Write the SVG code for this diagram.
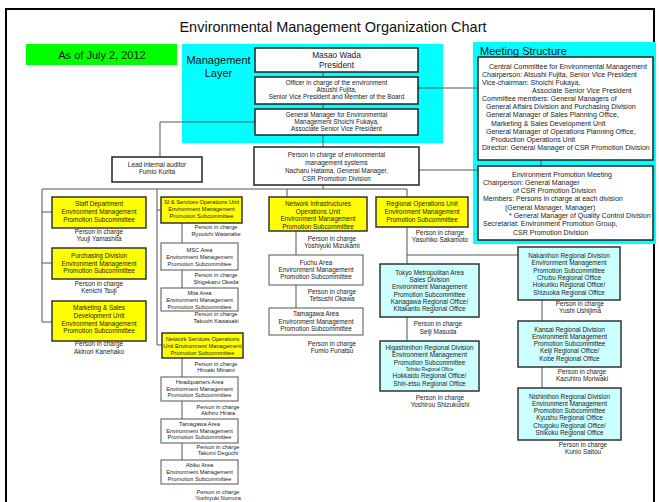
<svg xmlns="http://www.w3.org/2000/svg" width="659" height="502" viewBox="0 0 659 502">
<style>
text{font-family:"Liberation Sans",Arial,sans-serif;fill:#222}
.ttl{font-size:14.5px;text-anchor:middle;fill:#111}
.big{font-size:11px;fill:#111}
.pr{font-size:8.3px;text-anchor:middle}
.t6{font-size:6.4px;text-anchor:middle}
.t5{font-size:5.7px;text-anchor:middle}
.t7{font-size:7px}
.mid{text-anchor:middle}
.yb{fill:#ffff00;stroke:#333;stroke-width:1.5}
.cb{fill:#ccffff;stroke:#333;stroke-width:1.5}
.wb{fill:#fff;stroke:#555;stroke-width:1}
.mb{fill:#fff;stroke:#222;stroke-width:1.5}
.ln{stroke:#555;stroke-width:1;fill:none}
</style>
<rect x="0" y="0" width="659" height="502" fill="#fff"/>
<rect x="6" y="9" width="648" height="500" fill="none" stroke="#000" stroke-width="2"/>
<text class="ttl" x="333" y="32">Environmental Management Organization Chart</text>

<g id="date">
<rect x="26" y="44" width="151" height="21" fill="#00ff00"/>
<text class="big mid" x="102" y="59">As of July 2, 2012</text>
</g>

<g id="management-layer">
<rect x="182" y="44" width="261" height="99" fill="#00ffff"/>
<text class="big mid" x="218.5" y="64">Management</text>
<text class="big mid" x="218.5" y="77">Layer</text>
</g>

<g id="meeting-structure">
<rect x="473" y="42" width="183" height="202" fill="#00ffff"/>
<text class="big" x="480" y="55">Meeting Structure</text>
</g>

<g id="connectors">
<path class="ln" d="M323 72V77M323 104V109M323 135V147M323 185V189"/>
<path class="ln" d="M418 88H478M419 170H478M541 160V166"/>
<path class="ln" d="M255 122H160V157"/>
<path class="ln" d="M42 189H407"/>
<path class="ln" d="M42 189V322M42 212H52M42 263H52M42 322H52"/>
<path class="ln" d="M157 189V345M157 210H161M157 345H162"/>
<path class="ln" d="M182 223V243M182 270V288M182 358V377M182 401V419M182 443V460"/>
<path class="ln" d="M287 189V197M296 231V255M296 285V308"/>
<path class="ln" d="M407 189V197M407 227V264M407 317V341M407 255H518"/>
<path class="ln" d="M542 300V321M542 367V388"/>
</g>

<g id="president">
<rect class="mb" x="255" y="48" width="163" height="24"/>
<text class="pr" x="336.5" y="58">Masao Wada</text>
<text class="pr" x="336.5" y="67.5">President</text>
</g>
<g id="officer">
<rect class="mb" x="255" y="77" width="163" height="27"/>
<text class="t6" x="336.5" y="85">Officer in charge of the environment</text>
<text class="t6" x="336.5" y="92">Atsushi Fujita,</text>
<text class="t6" x="336.5" y="99">Senior Vice President and Member of the Board</text>
</g>
<g id="gm-env">
<rect class="mb" x="255" y="109" width="163" height="26"/>
<text class="t6" x="336.5" y="117">General Manager for Environmental</text>
<text class="t6" x="336.5" y="124">Management Shoichi Fukaya,</text>
<text class="t6" x="336.5" y="131">Associate Senior Vice President</text>
</g>
<g id="lead-auditor">
<rect class="mb" x="112" y="157" width="90" height="25"/>
<text class="t6" x="157" y="167">Lead internal auditor</text>
<text class="t6" x="157" y="174">Fumio Kurita</text>
</g>
<g id="ems">
<rect class="mb" x="254" y="147" width="165" height="38"/>
<text class="t6" x="336.5" y="157">Person in charge of environmental</text>
<text class="t6" x="336.5" y="165">management systems</text>
<text class="t6" x="336.5" y="173">Nacharu Hatama, General Manager,</text>
<text class="t6" x="336.5" y="180.5">CSR Promotion Division</text>
</g>

<g id="central-committee">
<rect class="mb" x="478" y="57" width="175" height="103"/>
<text class="t7" x="489" y="68.5">Central Committee for  Environmental Management</text>
<text class="t7" x="482" y="76.7">Chairperson: Atsushi Fujita, Senior Vice President</text>
<text class="t7" x="482" y="84.8">Vice-chairman: Shoichi Fukaya,</text>
<text class="t7" x="532" y="93">Associate Senior Vice President</text>
<text class="t7" x="482" y="101.1">Committee members: General Managers of</text>
<text class="t7" x="486" y="109.3">General Affairs Division and Purchasing Division</text>
<text class="t7" x="486" y="117.4">General Manager of Sales Planning Office,</text>
<text class="t7" x="491" y="125.6">Marketing &amp; Sales Development Unit</text>
<text class="t7" x="486" y="133.7">General Manager of Operations Planning Office,</text>
<text class="t7" x="491" y="141.9">Production Operations Unit</text>
<text class="t7" x="482" y="150">Director: General Manager of CSR Promotion Division</text>
</g>
<g id="env-promotion-meeting">
<rect class="mb" x="478" y="166" width="175" height="74"/>
<text class="t7 mid" x="562" y="176.5">Environment Promotion Meeting</text>
<text class="t7" x="483" y="184.8">Chairperson: General Manager</text>
<text class="t7" x="513" y="193.1">of CSR Promotion Division</text>
<text class="t7" x="483" y="201.4">Members: Persons in charge at each division</text>
<text class="t7" x="505" y="209.7">(General Manager, Manager)</text>
<text class="t7" x="509" y="218">* General Manager of Quality Control Division</text>
<text class="t7" x="483" y="226.3">Secretariat: Environment Promotion Group,</text>
<text class="t7" x="513" y="234.6">CSR Promotion Division</text>
</g>

<g id="staff">
<rect class="yb" x="52" y="197" width="94" height="31"/>
<text class="t6" x="99" y="206">Staff Department</text>
<text class="t6" x="99" y="214">Environment Management</text>
<text class="t6" x="99" y="222">Promotion Subcommittee</text>
<text class="t6" x="99" y="234">Person in charge</text>
<text class="t6" x="99" y="241">Yuuji Yamashita</text>
</g>
<g id="purchasing">
<rect class="yb" x="52" y="248" width="94" height="31"/>
<text class="t6" x="99" y="258">Purchasing Division</text>
<text class="t6" x="99" y="265.5">Environment Management</text>
<text class="t6" x="99" y="273">Promotion Subcommittee</text>
<text class="t6" x="99" y="286">Person in charge</text>
<text class="t6" x="99" y="293">Kenichi Tsuji</text>
</g>
<g id="marketing">
<rect class="yb" x="52" y="301" width="94" height="40"/>
<text class="t6" x="99" y="310.2">Marketing &amp; Sales</text>
<text class="t6" x="99" y="317.9">Development Unit</text>
<text class="t6" x="99" y="325.6">Environment Management</text>
<text class="t6" x="99" y="333.2">Promotion Subcommittee</text>
<text class="t6" x="99" y="346">Person in charge</text>
<text class="t6" x="99" y="354">Akinori Kanehako</text>
</g>

<g id="si-services">
<rect class="yb" x="161" y="197" width="81" height="26"/>
<text class="t5" x="201.5" y="204">SI &amp; Services Operations Unit</text>
<text class="t5" x="201.5" y="211">Environment Management</text>
<text class="t5" x="201.5" y="218">Promotion Subcommittee</text>
<text class="t5" x="216" y="229">Person in charge</text>
<text class="t5" x="216" y="236">Ryouichi Watanabe</text>
</g>
<g id="msc">
<rect class="wb" x="161" y="243" width="77" height="27"/>
<text class="t5" x="199.5" y="252">MSC Area</text>
<text class="t5" x="199.5" y="259">Environment Management</text>
<text class="t5" x="199.5" y="266">Promotion Subcommittee</text>
<text class="t5" x="216" y="277">Person in charge</text>
<text class="t5" x="216" y="284">Shigekazu Okeda</text>
</g>
<g id="mita">
<rect class="wb" x="161" y="288" width="77" height="23"/>
<text class="t5" x="199.5" y="295">Mita Area</text>
<text class="t5" x="199.5" y="302">Environment Management</text>
<text class="t5" x="199.5" y="309">Promotion Subcommittee</text>
<text class="t5" x="216" y="316">Person in charge</text>
<text class="t5" x="216" y="323">Takushi Kawasaki</text>
</g>
<g id="network-services">
<rect class="yb" x="162" y="333" width="81" height="25"/>
<text class="t5" x="202.5" y="341">Network Services Operations</text>
<text class="t5" x="202.5" y="348">Unit Environment Management</text>
<text class="t5" x="202.5" y="354.5">Promotion Subcommittee</text>
<text class="t5" x="216" y="366">Person in charge</text>
<text class="t5" x="216" y="372">Hiroaki Minami</text>
</g>
<g id="headquarters">
<rect class="wb" x="161" y="377" width="77" height="24"/>
<text class="t5" x="199.5" y="384">Headquarters Area</text>
<text class="t5" x="199.5" y="390.5">Environment Management</text>
<text class="t5" x="199.5" y="397">Promotion Subcommittee</text>
<text class="t5" x="218" y="409">Person in charge</text>
<text class="t5" x="218" y="415">Akihiro Hirata</text>
</g>
<g id="tamagawa-ns">
<rect class="wb" x="161" y="419" width="77" height="24"/>
<text class="t5" x="199.5" y="426">Tamagawa Area</text>
<text class="t5" x="199.5" y="432.5">Environment Management</text>
<text class="t5" x="199.5" y="439">Promotion Subcommittee</text>
<text class="t5" x="218" y="449">Person in charge</text>
<text class="t5" x="218" y="455">Takumi Deguchi</text>
</g>
<g id="abiko">
<rect class="wb" x="161" y="460" width="77" height="24"/>
<text class="t5" x="199.5" y="467">Abiko Area</text>
<text class="t5" x="199.5" y="474">Environment Management</text>
<text class="t5" x="199.5" y="480.5">Promotion Subcommittee</text>
<text class="t5" x="218" y="494">Person in charge</text>
<text class="t5" x="218" y="500">Yoshiyuki Nomura</text>
</g>

<g id="network-infra">
<rect class="yb" x="269" y="197" width="98" height="34"/>
<text class="t6" x="318" y="206">Network Infrastructures</text>
<text class="t6" x="318" y="213.5">Operations Unit</text>
<text class="t6" x="318" y="221">Environment Management</text>
<text class="t6" x="318" y="228.5">Promotion Subcommittee</text>
<text class="t6" x="332" y="241">Person in charge</text>
<text class="t6" x="332" y="248">Yoshiyuki Mizukami</text>
</g>
<g id="fuchu">
<rect class="wb" x="269" y="255" width="94" height="30"/>
<text class="t6" x="316" y="265">Fuchu Area</text>
<text class="t6" x="316" y="272">Environment Management</text>
<text class="t6" x="316" y="279">Promotion Subcommittee</text>
<text class="t6" x="332" y="294">Person in charge</text>
<text class="t6" x="332" y="301">Tetsushi Okawa</text>
</g>
<g id="tamagawa-ni">
<rect class="wb" x="269" y="308" width="94" height="27"/>
<text class="t6" x="316" y="316">Tamagawa Area</text>
<text class="t6" x="316" y="324">Environment Management</text>
<text class="t6" x="316" y="331">Promotion Subcommittee</text>
<text class="t6" x="332" y="346">Person in charge</text>
<text class="t6" x="332" y="353">Fumio Funatsu</text>
</g>

<g id="regional-ops">
<rect class="yb" x="376" y="197" width="92" height="30"/>
<text class="t6" x="422" y="206">Regional Operations Unit</text>
<text class="t6" x="422" y="214">Environment Management</text>
<text class="t6" x="422" y="221.5">Promotion Subcommittee</text>
<text class="t6" x="440" y="235">Person in charge</text>
<text class="t6" x="440" y="242">Yasuhiko Sakamoto</text>
</g>
<g id="tokyo">
<rect class="cb" x="380" y="264" width="99" height="53"/>
<text class="t6" x="429.5" y="275">Tokyo Metropolitan Area</text>
<text class="t6" x="429.5" y="282.2">Sales Division</text>
<text class="t6" x="429.5" y="289.4">Environment Management</text>
<text class="t6" x="429.5" y="296.6">Promotion Subcommittee</text>
<text class="t6" x="429.5" y="303.8">Kanagawa Regional Office/</text>
<text class="t6" x="429.5" y="311">Kitakanto Regional Office</text>
<text class="t6" x="438" y="326">Person in charge</text>
<text class="t6" x="438" y="334">Seiji Masuda</text>
</g>
<g id="higashinihon">
<rect class="cb" x="380" y="341" width="99" height="50"/>
<text class="t6" x="429.5" y="350">Higashinihon Regional Division</text>
<text class="t6" x="429.5" y="357.3">Environment Management</text>
<text class="t6" x="429.5" y="364.6">Promotion Subcommittee</text>
<text class="t5" x="429.5" y="371" style="font-size:4.6px">Tohoku Regional Office</text>
<text class="t6" x="429.5" y="378.2">Hokkaido Regional Office/</text>
<text class="t6" x="429.5" y="385.5">Shin-etsu Regional Office</text>
<text class="t6" x="440" y="400">Person in charge</text>
<text class="t6" x="440" y="407">Yoshirou Shizukuishi</text>
</g>

<g id="nakanihon">
<rect class="cb" x="518" y="247" width="102" height="53"/>
<text class="t6" x="569" y="258">Nakanihon Regional Division</text>
<text class="t6" x="569" y="265.3">Environment Management</text>
<text class="t6" x="569" y="272.6">Promotion Subcommittee</text>
<text class="t6" x="569" y="279.9">Chubu Regional Office</text>
<text class="t6" x="569" y="287.2">Hokuriku Regional Office/</text>
<text class="t6" x="569" y="294.5">Shizuoka Regional Office</text>
<text class="t6" x="580" y="306">Person in charge</text>
<text class="t6" x="580" y="313">Yushi Ushijima</text>
</g>
<g id="kansai">
<rect class="cb" x="518" y="321" width="103" height="46"/>
<text class="t6" x="569.5" y="331.5">Kansai Regional Division</text>
<text class="t6" x="569.5" y="338.8">Environment Management</text>
<text class="t6" x="569.5" y="346.1">Promotion Subcommittee</text>
<text class="t6" x="569.5" y="353.4">Keiji Regional Office/</text>
<text class="t6" x="569.5" y="360.7">Kobe Regional Office</text>
<text class="t6" x="582" y="374">Person in charge</text>
<text class="t6" x="582" y="381">Kazuhiro Moriwaki</text>
</g>
<g id="nishinihon">
<rect class="cb" x="518" y="388" width="103" height="52"/>
<text class="t6" x="569.5" y="398.5">Nishinihon Regional Division</text>
<text class="t6" x="569.5" y="405.8">Environment Management</text>
<text class="t6" x="569.5" y="413.1">Promotion Subcommittee</text>
<text class="t6" x="569.5" y="420.4">Kyushu Regional Office</text>
<text class="t6" x="569.5" y="427.7">Chugoku Regional Office/</text>
<text class="t6" x="569.5" y="435">Shikoku Regional Office</text>
<text class="t6" x="583" y="447">Person in charge</text>
<text class="t6" x="583" y="454">Kunio Saitou</text>
</g>
</svg>
